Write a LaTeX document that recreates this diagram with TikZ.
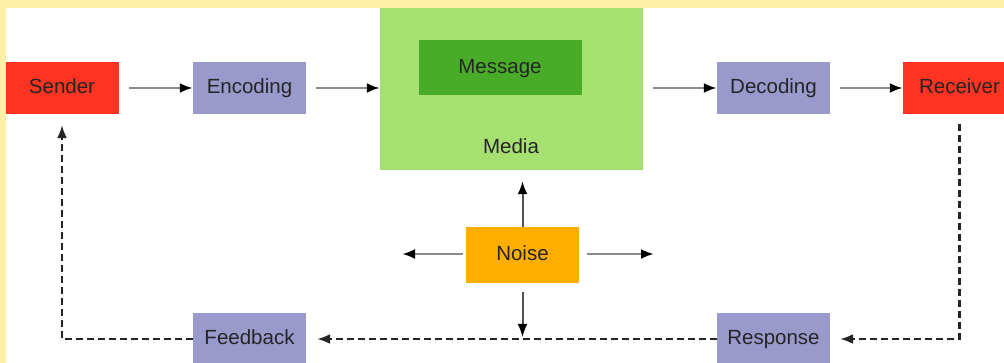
\documentclass[tikz,border=0pt]{standalone}
\usepackage{fontspec}
\setmainfont{Liberation Sans}
\usetikzlibrary{arrows.meta}
\definecolor{bgyellow}{HTML}{FFF0A6}
\definecolor{sendred}{HTML}{FF3322}
\definecolor{lav}{HTML}{9A99CC}
\definecolor{medgreen}{HTML}{A6E070}
\definecolor{msggreen}{HTML}{48AC28}
\definecolor{noiseorange}{HTML}{FFAE00}
\definecolor{txt}{HTML}{252525}
\definecolor{flowgray}{HTML}{8A8A8A}
\begin{document}
\begin{tikzpicture}[x=1pt,y=-1pt,
  lbl/.style={font=\fontsize{20.5}{24}\selectfont,text=txt,text height=15pt,text depth=4pt},
  blk/.style={lbl,minimum width=113pt,minimum height=52pt,inner sep=0pt},
  flow/.style={draw=flowgray,line width=2.8pt,-{Latex[black,length=13pt,width=10pt]}},
  narrow/.style={draw=flowgray!60!black,line width=2pt,-{Latex[black,length=13pt,width=10pt]}},
  fb/.style={draw=txt,line width=2.1pt,dash pattern=on 7pt off 4pt,-{Latex[length=13pt,width=10pt]}}]
\useasboundingbox (0,0) rectangle (1004,363);
\clip (0,0) rectangle (1004,363);
\fill[bgyellow] (0,0) rectangle (1004,363);
\fill[white] (6,8) rectangle (1004,363);

% top row
\node[blk,fill=sendred] (sender) at (62,88) {Sender};
\node[blk,fill=lav] (encoding) at (249.5,88) {Encoding};
\node[minimum width=263pt,minimum height=162pt,inner sep=0pt,fill=medgreen] (media) at (511.5,89) {};
\node[blk,fill=msggreen,minimum width=163pt,minimum height=55pt] (message) at (500,68) {Message};
\node[lbl,inner sep=0pt] (medialbl) at (511,148) {Media};
\node[blk,fill=lav] (decoding) at (773.5,88) {Decoding};
\node[blk,fill=sendred] (receiver) at (959.5,88) {Receiver};

% noise
\node[blk,fill=noiseorange,minimum height=56pt] (noise) at (522.5,255) {Noise};

% bottom row
\node[blk,fill=lav] (feedback) at (249.5,339) {Feedback};
\node[blk,fill=lav] (response) at (773.5,339) {Response};

% forward flow
\draw[flow,shorten <=10pt] (sender) -- (encoding);
\draw[flow,shorten <=10pt] (encoding.east) -- (encoding.east -| media.west);
\draw[flow,shorten <=10pt] (media.east |- decoding.west) -- (decoding.west);
\draw[flow,shorten <=10pt] (decoding) -- (receiver);

% noise arrows
\coordinate (nl) at (402,254);
\coordinate (nr) at (654,254);
\coordinate (nd) at (noise.south |- response.west);
\draw[narrow,shorten >=11pt] (noise.north) -- (noise.north |- media.south);
\draw[flow,shorten <=3pt] (noise.west |- nl) -- (nl);
\draw[flow,shorten <=8pt] (noise.east |- nr) -- (nr);
\draw[narrow,shorten <=9pt,shorten >=2pt] (noise.south) -- (nd);

% feedback loop
\draw[fb,shorten <=10pt,shorten >=10pt] (receiver.south) |- (response.east);
\draw[fb,shorten >=11pt] (response.west) -- (feedback.east);
\draw[fb,shorten >=11pt] (feedback.west) -| (sender.south);
\end{tikzpicture}
\end{document}
